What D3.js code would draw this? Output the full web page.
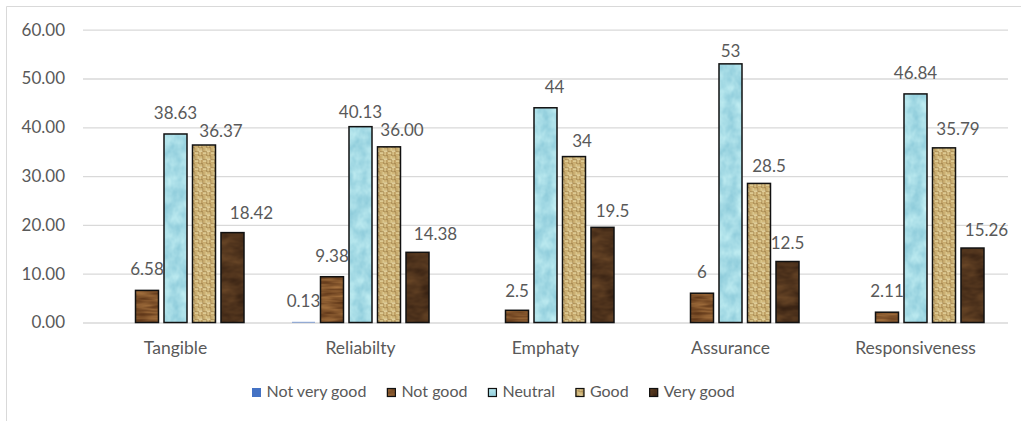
<!DOCTYPE html>
<html>
<head>
<meta charset="utf-8">
<script src="https://cdn.jsdelivr.net/npm/d3@7"></script>
<style>
  html, body { margin: 0; padding: 0; background: #fff; }
  svg { display: block; font-family: Lato, "Open Sans", sans-serif; }
</style>
</head>
<body>
<svg id="chart" width="1021" height="421"></svg>
<script>
// Service-quality ratings (%) per dimension
const categories = ["Tangible", "Reliabilty", "Emphaty", "Assurance", "Responsiveness"];
const seriesNames = ["Not very good", "Not good", "Neutral", "Good", "Very good"];
const notVeryGood = [null, 0.13, null, null, null];
const notGood     = [6.58, 9.38, 2.5, 6, 2.11];
const neutral     = [38.63, 40.13, 44, 53, 46.84];
const good        = [36.37, 36.00, 34, 28.5, 35.79];
const veryGood    = [18.42, 14.38, 19.5, 12.5, 15.26];
// decimals shown in the data labels of each dimension (null = as entered)
const labelDecimals = [2, 2, null, null, 2];
const yTicks = [0, 10, 20, 30, 40, 50, 60];

const seriesValues = [notVeryGood, notGood, neutral, good, veryGood];

// hand-placed data labels: horizontal nudge and baseline gap above the bar (px)
const labelNudgeX = [
  [0, 0, 0, 0, 0],
  [0, 0, 0, 0, 0],
  [0, 0, 9, 0, 0],
  [17, 13, 8, 10, 14],
  [19, 18, 10, 0, 14]
];
const labelGap = [
  [15, 15, 15, 15, 15],
  [15, 15, 13, 15.5, 15],
  [15, 8.5, 15, 7, 14.5],
  [8, 11, 10, 11.5, 12.5],
  [13.5, 12.5, 10, 12.5, 12.5]
];

const svg = d3.select("#chart");
const W = 1021, H = 421;
const textColor = "#595959";
const gridColor = "#d9d9d9";

// ---- fills ----
const defs = svg.append("defs");

function noiseFilter(id, freq, octaves, seed, rows) {
  const f = defs.append("filter").attr("id", id)
    .attr("x", "0").attr("y", "0").attr("width", "1").attr("height", "1")
    .attr("color-interpolation-filters", "sRGB");
  f.append("feTurbulence").attr("type", "fractalNoise")
    .attr("baseFrequency", freq).attr("numOctaves", octaves)
    .attr("seed", seed).attr("stitchTiles", "stitch").attr("result", "noise");
  f.append("feColorMatrix").attr("in", "noise").attr("type", "matrix")
    .attr("values", rows).attr("result", "tint");
  f.append("feComposite").attr("in", "tint").attr("in2", "SourceGraphic")
    .attr("operator", "in");
}
// wood grain, medium brown
noiseFilter("fNotGood", "0.02 0.3", 2, 3,
  "0.40 0 0 0 0.31  0.34 0 0 0 0.16  0.22 0 0 0 0.06  0 0 0 0 1");
// water, light cyan
noiseFilter("fNeutral", "0.07", 3, 8,
  "0.30 0 0 0 0.50  0.20 0 0 0 0.76  0.14 0 0 0 0.83  0 0 0 0 1");
// dark mottled wood
noiseFilter("fVeryGood", "0.05 0.09", 3, 5,
  "0.30 0 0 0 0.16  0.22 0 0 0 0.09  0.12 0 0 0 0.05  0 0 0 0 1");

// burlap basket weave
const weave = defs.append("pattern").attr("id", "pGood")
  .attr("patternUnits", "userSpaceOnUse").attr("width", 8).attr("height", 8);
weave.append("rect").attr("width", 8).attr("height", 8).attr("fill", "#8f6f3a");
const weaveCells = [
  // [x, y, w, h, color]
  [0, 0.3, 3.6, 1.5, "#f2e0a8"], [0, 2.3, 3.6, 1.5, "#dec383"],
  [4.3, 0, 1.5, 3.6, "#e8d295"], [6.3, 0, 1.5, 3.6, "#d2b475"],
  [0.3, 4, 1.5, 3.6, "#dbbf80"], [2.3, 4, 1.5, 3.6, "#eedb9f"],
  [4, 4.3, 3.6, 1.5, "#e4cb8b"], [4, 6.3, 3.6, 1.5, "#f5e6b2"]
];
weave.selectAll("rect.c").data(weaveCells).join("rect").attr("class", "c")
  .attr("x", d => d[0]).attr("y", d => d[1])
  .attr("width", d => d[2]).attr("height", d => d[3]).attr("fill", d => d[4]);

const seriesStyle = [
  { fill: "#4472c4", filter: null, stroke: "none" },
  { fill: "#7f4e2c", filter: "url(#fNotGood)", stroke: "#111" },
  { fill: "#a6dde8", filter: "url(#fNeutral)", stroke: "#111" },
  { fill: "url(#pGood)", filter: null, stroke: "#111" },
  { fill: "#4a2e1c", filter: "url(#fVeryGood)", stroke: "#111" }
];

// ---- frame ----
svg.append("line").attr("x1", 6.5).attr("x2", W).attr("y1", 6.5).attr("y2", 6.5)
  .attr("stroke", gridColor).attr("stroke-width", 1);
svg.append("line").attr("x1", 6.5).attr("x2", 6.5).attr("y1", 6.5).attr("y2", H)
  .attr("stroke", gridColor).attr("stroke-width", 1);

// ---- scales ----
const plotLeft = 83, plotRight = 1008;
const y = d3.scaleLinear().domain([0, 60]).range([322.5, 29.7]);
const x0 = d3.scaleBand().domain(categories).range([plotLeft, plotRight]).padding(0);
const x1 = d3.scaleBand().domain(seriesNames)
  .range([24, x0.bandwidth() - 24]).paddingInner(0.193).paddingOuter(0);

// ---- gridlines + y axis ----
const yAxis = d3.axisLeft(y).tickValues(yTicks).tickFormat(d3.format(".2f"))
  .tickSize(-(plotRight - plotLeft)).tickPadding(18);
const gy = svg.append("g").attr("transform", `translate(${plotLeft},0)`).call(yAxis);
gy.select(".domain").remove();
gy.selectAll(".tick line").attr("stroke", gridColor).attr("stroke-width", 1.3);
gy.selectAll(".tick text").attr("fill", textColor).attr("font-size", 17)
  .attr("font-family", "Lato, sans-serif");

// ---- x axis labels ----
const xAxis = d3.axisBottom(x0).tickSize(0).tickPadding(0);
const gx = svg.append("g").attr("transform", `translate(0,${y(0)})`).call(xAxis);
gx.select(".domain").remove();
gx.selectAll(".tick text").attr("fill", textColor).attr("font-size", 17.5)
  .attr("font-family", "Lato, sans-serif").attr("dy", null).attr("y", 31);

// ---- bars ----
const cells = [];
categories.forEach((c, ci) => {
  seriesNames.forEach((s, si) => {
    const v = seriesValues[si][ci];
    if (v !== null) cells.push({ cat: c, ci, series: s, si, value: v });
  });
});

const groups = svg.append("g").selectAll("g").data(categories).join("g")
  .attr("transform", d => `translate(${x0(d)},0)`);

groups.each(function (c, ci) {
  const g = d3.select(this);
  const data = cells.filter(d => d.ci === ci);
  g.selectAll("rect.fill").data(data).join("rect").attr("class", "fill")
    .attr("x", d => x1(d.series)).attr("width", x1.bandwidth())
    .attr("y", d => y(d.value)).attr("height", d => y(0) - y(d.value))
    .attr("fill", d => seriesStyle[d.si].fill)
    .attr("filter", d => seriesStyle[d.si].filter);
  g.selectAll("rect.edge").data(data.filter(d => seriesStyle[d.si].stroke !== "none"))
    .join("rect").attr("class", "edge")
    .attr("x", d => x1(d.series)).attr("width", x1.bandwidth())
    .attr("y", d => y(d.value)).attr("height", d => y(0) - y(d.value))
    .attr("fill", "none").attr("stroke", d => seriesStyle[d.si].stroke)
    .attr("stroke-width", 1.5);
  g.selectAll("text.val").data(data).join("text").attr("class", "val")
    .attr("x", d => x1(d.series) + x1.bandwidth() / 2 + labelNudgeX[d.si][d.ci])
    .attr("y", d => y(d.value) - labelGap[d.si][d.ci])
    .attr("text-anchor", "middle").attr("fill", textColor).attr("font-size", 17)
    .text(d => labelDecimals[d.ci] === null ? String(d.value) : d.value.toFixed(labelDecimals[d.ci]));
});

// ---- legend ----
const legend = svg.append("g").attr("transform", "translate(252,388)");
let lx = 0;
seriesNames.forEach((s, si) => {
  const item = legend.append("g").attr("transform", `translate(${lx},0)`);
  item.append("rect").attr("width", 9).attr("height", 9)
    .attr("fill", seriesStyle[si].fill).attr("filter", seriesStyle[si].filter);
  if (seriesStyle[si].stroke !== "none") {
    item.append("rect").attr("x", 0.5).attr("y", 0.5).attr("width", 8).attr("height", 8)
      .attr("fill", "none").attr("stroke", "#111").attr("stroke-width", 1.2);
  }
  const t = item.append("text").attr("x", 14.5).attr("y", 9).attr("fill", textColor)
    .attr("font-size", 16).text(s);
  lx += 14.5 + t.node().getComputedTextLength() + 20.5;
});
</script>
</body>
</html>
